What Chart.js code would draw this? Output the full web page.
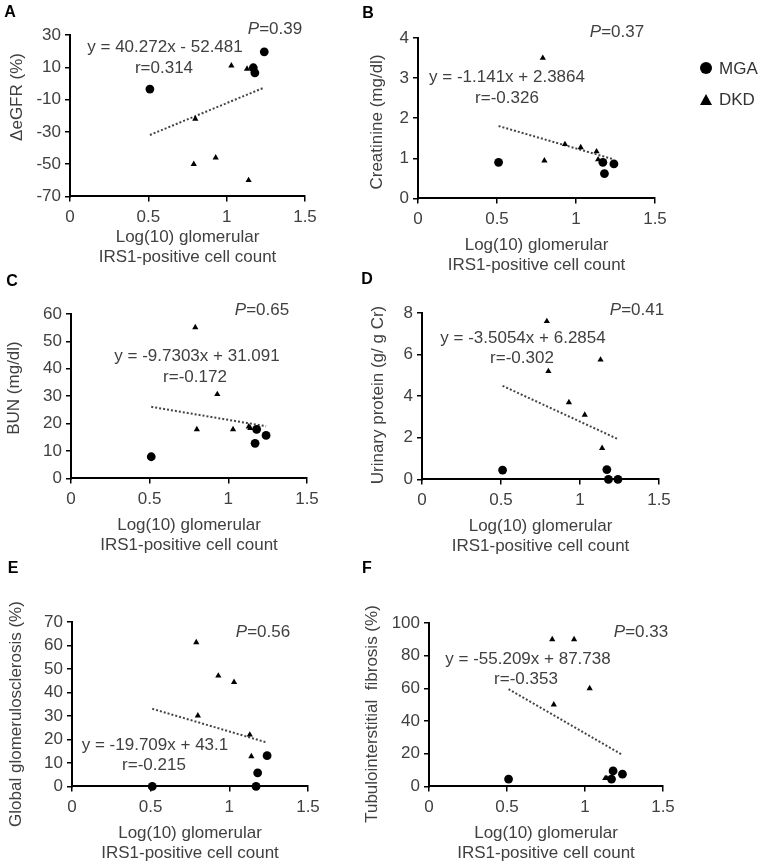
<!DOCTYPE html>
<html><head><meta charset="utf-8">
<script src="https://cdn.jsdelivr.net/npm/chart.js@4.4.1/dist/chart.umd.min.js"></script>
<style>
html,body{margin:0;padding:0;background:#fff;overflow:hidden;width:763px;height:865px;}
#wrap{position:relative;width:763px;height:865px;font-family:"Liberation Sans",Arial,sans-serif;color:#404040;}
canvas{position:absolute;}
.t{position:absolute;transform:translate(-50%,-50%);white-space:nowrap;font-size:17px;line-height:20px;}
.yt{position:absolute;transform:translate(-50%,-50%) rotate(-90deg);white-space:pre;font-size:17px;line-height:20px;}
.lab{position:absolute;transform:translate(-50%,-50%);font-weight:bold;font-size:16px;color:#000;}
.lg{position:absolute;font-size:17px;line-height:20px;transform:translateY(-50%);color:#333;}
</style></head><body><div id="wrap"></div>
<script>
// ---- data ----
const xMGA = [0.51, 1.17, 1.18, 1.24];
const xDKD = [0.79, 0.80, 0.93, 1.03, 1.13, 1.14];
const egfrMGA = [-3.5, 9.7, 6.6, 19.6];
const egfrDKD = [-50, -22, -46, 11, 9, -60];
const creMGA = [0.9, 0.9, 0.62, 0.86];
const creDKD = [3.5, 0.94, 1.35, 1.27, 1.17, 0.97];
const bunMGA = [7.9, 12.8, 17.9, 15.7];
const bunDKD = [55.1, 17.9, 30.7, 17.9, 18.9, 18.3];
const upMGA = [0.45, 0.47, 0, 0];
const upDKD = [7.6, 5.2, 3.7, 3.1, 5.75, 1.5];
const ggsMGA = [0, 0, 5.8, 13.1];
const ggsDKD = [61.3, 30.1, 47.1, 44.4, 22, 12.8];
const tifMGA = [4.5, 4.5, 9.5, 7.5];
const tifDKD = [90, 50, 90, 60, 5, 5];

const panelLetters = ['A', 'B', 'C', 'D', 'E', 'F'];
const seriesNames = ['MGA', 'DKD'];
const slopes = [40.272, -1.141, -9.7303, -3.5054, -19.709, -55.209];
const intercepts = [-52.481, 2.3864, 31.091, 6.2854, 43.1, 87.738];
const yMins = [-70, 0, 0, 0, 0, 0];
const yMaxs = [30, 4, 60, 8, 70, 100];
const ySteps = [20, 1, 10, 2, 10, 20];
const xTicksMin = 0, xTicksMax = 1.5, xTickStep = 0.5;
const yTitles = ['\u0394eGFR (%)', 'Creatinine (mg/dl)', 'BUN (mg/dl)', 'Urinary protein (g/ g Cr)', 'Global glomerulosclerosis (%)', 'Tubulointerstitial  fibrosis (%)'];
const xTitle = ['Log(10) glomerular', 'IRS1-positive cell count'];
const eqTexts = ['y = 40.272x - 52.481', 'y = -1.141x + 2.3864', 'y = -9.7303x + 31.091', 'y = -3.5054x + 6.2854', 'y = -19.709x + 43.1', 'y = -55.209x + 87.738'];
const rTexts = ['r=0.314', 'r=-0.326', 'r=-0.172', 'r=-0.302', 'r=-0.215', 'r=-0.353'];
const pTexts = ['0.39', '0.37', '0.65', '0.41', '0.56', '0.33'];
const mgaSets = [egfrMGA, creMGA, bunMGA, upMGA, ggsMGA, tifMGA];
const dkdSets = [egfrDKD, creDKD, bunDKD, upDKD, ggsDKD, tifDKD];

// ---- layout (styling only) ----
const geom = [
  {cl:0,   L:70,  R:305, T:35,  B:196, yt:[17,97],   xo:41, eq:[165,47], r:[164,68], p:[275,29], lab:[10,12]},
  {cl:340, L:418, R:655, T:38,  B:198, yt:[377,122], xo:47, eq:[507,77], r:[507,98], p:[617,32], lab:[368,13]},
  {cl:0,   L:71,  R:307, T:314, B:478, yt:[14,388],  xo:47, eq:[197,356], r:[195,377], p:[262,310], lab:[12,281]},
  {cl:340, L:422, R:659, T:313, B:479, yt:[378,395], xo:47, eq:[523,338], r:[522,358], p:[637,310], lab:[367,279]},
  {cl:0,   L:72,  R:308, T:622, B:786, yt:[16,714],  xo:47, eq:[155,745], r:[154,765], p:[263,632], lab:[13,568]},
  {cl:340, L:429, R:663, T:623, B:786, yt:[372,714], xo:47, eq:[528,659], r:[526,679], p:[641,632], lab:[367,568]}
];
const FONT = '"Liberation Sans", Arial, sans-serif';
const TXT = '#404040';
const wrap = document.getElementById('wrap');

function addDiv(cls, html, x, y) {
  const d = document.createElement('div');
  d.className = cls; d.innerHTML = html;
  d.style.left = x + 'px'; d.style.top = y + 'px';
  wrap.appendChild(d);
  return d;
}

const allX = xMGA.concat(xDKD);
const xLo = Math.min(...allX), xHi = Math.max(...allX);

for (let i = 0; i < 6; i++) {
  const g = geom[i];
  const padTop = 20;
  const lh = 17 * 1.2;
  const xH = g.xo + lh * 1.5;
  const cw = 340;
  const ch = padTop + (g.B - g.T) + xH;
  const cv = document.createElement('canvas');
  cv.width = cw; cv.height = Math.ceil(ch);
  cv.style.left = g.cl + 'px'; cv.style.top = (g.T - padTop) + 'px';
  cv.style.width = cw + 'px'; cv.style.height = Math.ceil(ch) + 'px';
  wrap.appendChild(cv);

  const mga = xMGA.map((x, k) => ({x, y: mgaSets[i][k]}));
  const dkd = xDKD.map((x, k) => ({x, y: dkdSets[i][k]}));
  const trend = [xLo, xHi].map(x => ({x, y: slopes[i] * x + intercepts[i]}));

  new Chart(cv, {
    type: 'scatter',
    data: {
      datasets: [
        {label: 'trend', data: trend, type: 'line', showLine: true, borderColor: '#444', borderWidth: 2,
         borderDash: [2, 2], pointRadius: 0, fill: false, order: 3},
        {label: seriesNames[1], data: dkd, pointStyle: 'triangle', pointRadius: 3.6, backgroundColor: '#000',
         borderColor: '#000', borderWidth: 0, clip: false, order: 2},
        {label: seriesNames[0], data: mga, pointStyle: 'circle', pointRadius: 4.4, backgroundColor: '#000',
         borderColor: '#000', borderWidth: 0, clip: false, order: 1}
      ]
    },
    options: {
      responsive: false, animation: false, devicePixelRatio: 1,
      layout: {autoPadding: false, padding: {left: 0, top: padTop, right: g.cl + cw - g.R, bottom: 0}},
      plugins: {legend: {display: false}, tooltip: {enabled: false}},
      scales: {
        x: {
          type: 'linear', min: xTicksMin, max: xTicksMax,
          ticks: {stepSize: xTickStep, color: TXT, font: {family: FONT, size: 17}, padding: 6,
                  callback: v => String(v)},
          grid: {drawOnChartArea: false, drawTicks: true, tickLength: 5, color: '#000', lineWidth: 1.5},
          border: {display: true, color: '#000', width: 2},
          title: {display: true, text: xTitle, color: TXT, font: {family: FONT, size: 17}, padding: {top: 0, bottom: 0}},
          afterFit: s => { s.height = xH; s.paddingLeft = 0; s.paddingRight = 0; }
        },
        y: {
          type: 'linear', min: yMins[i], max: yMaxs[i],
          ticks: {stepSize: ySteps[i], color: TXT, font: {family: FONT, size: 17}, padding: 4, autoSkip: false},
          grid: {drawOnChartArea: false, drawTicks: true, tickLength: 5, color: '#000', lineWidth: 1.5},
          border: {display: true, color: '#000', width: 2},
          title: {display: false},
          afterFit: s => { s.width = g.L - g.cl; s.paddingTop = 0; s.paddingBottom = 0; }
        }
      }
    }
  });

  addDiv('yt', yTitles[i], g.yt[0], g.yt[1]);
  addDiv('lab', panelLetters[i], g.lab[0], g.lab[1]);
  addDiv('t', eqTexts[i], g.eq[0], g.eq[1]);
  addDiv('t', rTexts[i], g.r[0], g.r[1]);
  addDiv('t', '<i>P</i>=' + pTexts[i], g.p[0], g.p[1]);
}

// legend
const c = document.createElement('div');
c.style.cssText = 'position:absolute;left:700px;top:62px;width:12px;height:12px;border-radius:50%;background:#000;';
wrap.appendChild(c);
const tr = document.createElement('div');
tr.style.cssText = 'position:absolute;left:700px;top:94px;width:0;height:0;border-left:6px solid transparent;border-right:6px solid transparent;border-bottom:11px solid #000;';
wrap.appendChild(tr);
addDiv('lg', seriesNames[0], 719, 69);
addDiv('lg', seriesNames[1], 719, 100);
</script></body></html>
